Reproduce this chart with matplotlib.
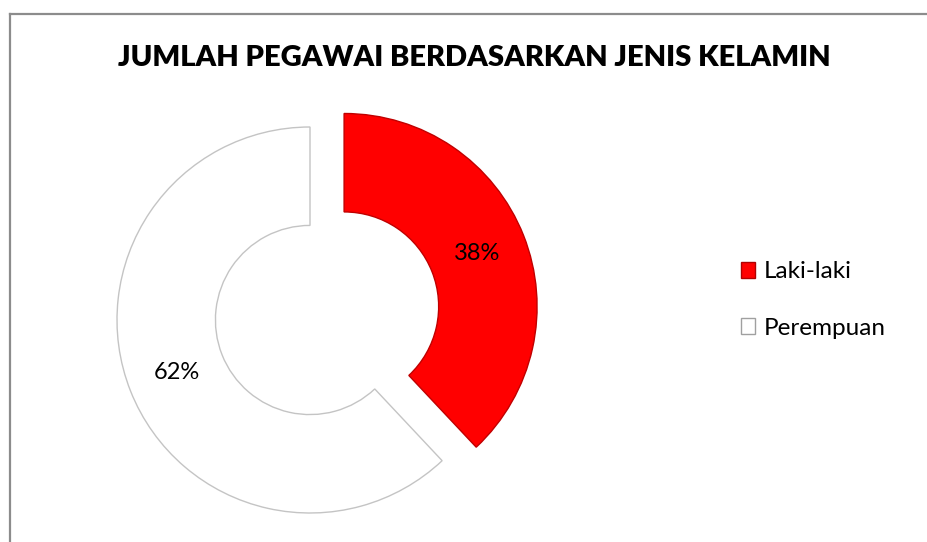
import numpy as np
import matplotlib
matplotlib.use('Agg')
import matplotlib.pyplot as plt
from matplotlib.patches import Patch
from matplotlib.lines import Line2D

# data
categories = ['Laki-laki', 'Perempuan']
shares = [38, 62]
colours = ['#ff0000', '#ffffff']
title = 'JUMLAH PEGAWAI BERDASARKAN JENIS KELAMIN'

W, H = 927, 542
plt.rcParams['font.family'] = ['Lato', 'DejaVu Sans']
fig = plt.figure(figsize=(W/100, H/100), dpi=100)

# donut centre in pixels (from top-left) and outer radius
cx, cy, R = 310, 320, 193
lim = 1.25
side = 2*lim*R
ax = fig.add_axes([(cx - side/2)/W, (H - cy - side/2)/H, side/W, side/H])

wedges, texts, autotexts = ax.pie(
    shares, colors=colours, startangle=90, counterclock=False,
    explode=[0.19, 0], radius=1, autopct='%1.0f%%', pctdistance=0.74,
    wedgeprops=dict(width=0.51, edgecolor='#c4c4c4', linewidth=1.0),
    textprops=dict(fontsize=17, color='black'))
wedges[0].set_edgecolor('#c00000')
ax.set_xlim(-lim, lim)
ax.set_ylim(-lim, lim)
ax.set_aspect('equal')
ax.axis('off')

fig.text(474/W, 1 - 58/H, title, ha='center', va='center',
         fontsize=21, fontweight='heavy')

handles = [Patch(facecolor=c, edgecolor='#a0a0a0' if c == '#ffffff' else '#b00000')
           for c in colours]
fig.legend(handles, categories, loc='center left', bbox_to_anchor=(719/W, 1 - 300/H),
           frameon=False, fontsize=17.5, handlelength=0.6, handleheight=0.6,
           handletextpad=0.35, labelspacing=1.45)

# chart border (left and top only are in frame)
fig.add_artist(Line2D([9.5/W, 9.5/W], [0, 1 - 13.5/H], color='#8c8c8c', lw=1.6,
                      transform=fig.transFigure))
fig.add_artist(Line2D([9.5/W, 1], [1 - 13.5/H, 1 - 13.5/H], color='#8c8c8c', lw=1.6,
                      transform=fig.transFigure))

fig.savefig('out.png', dpi=100)
